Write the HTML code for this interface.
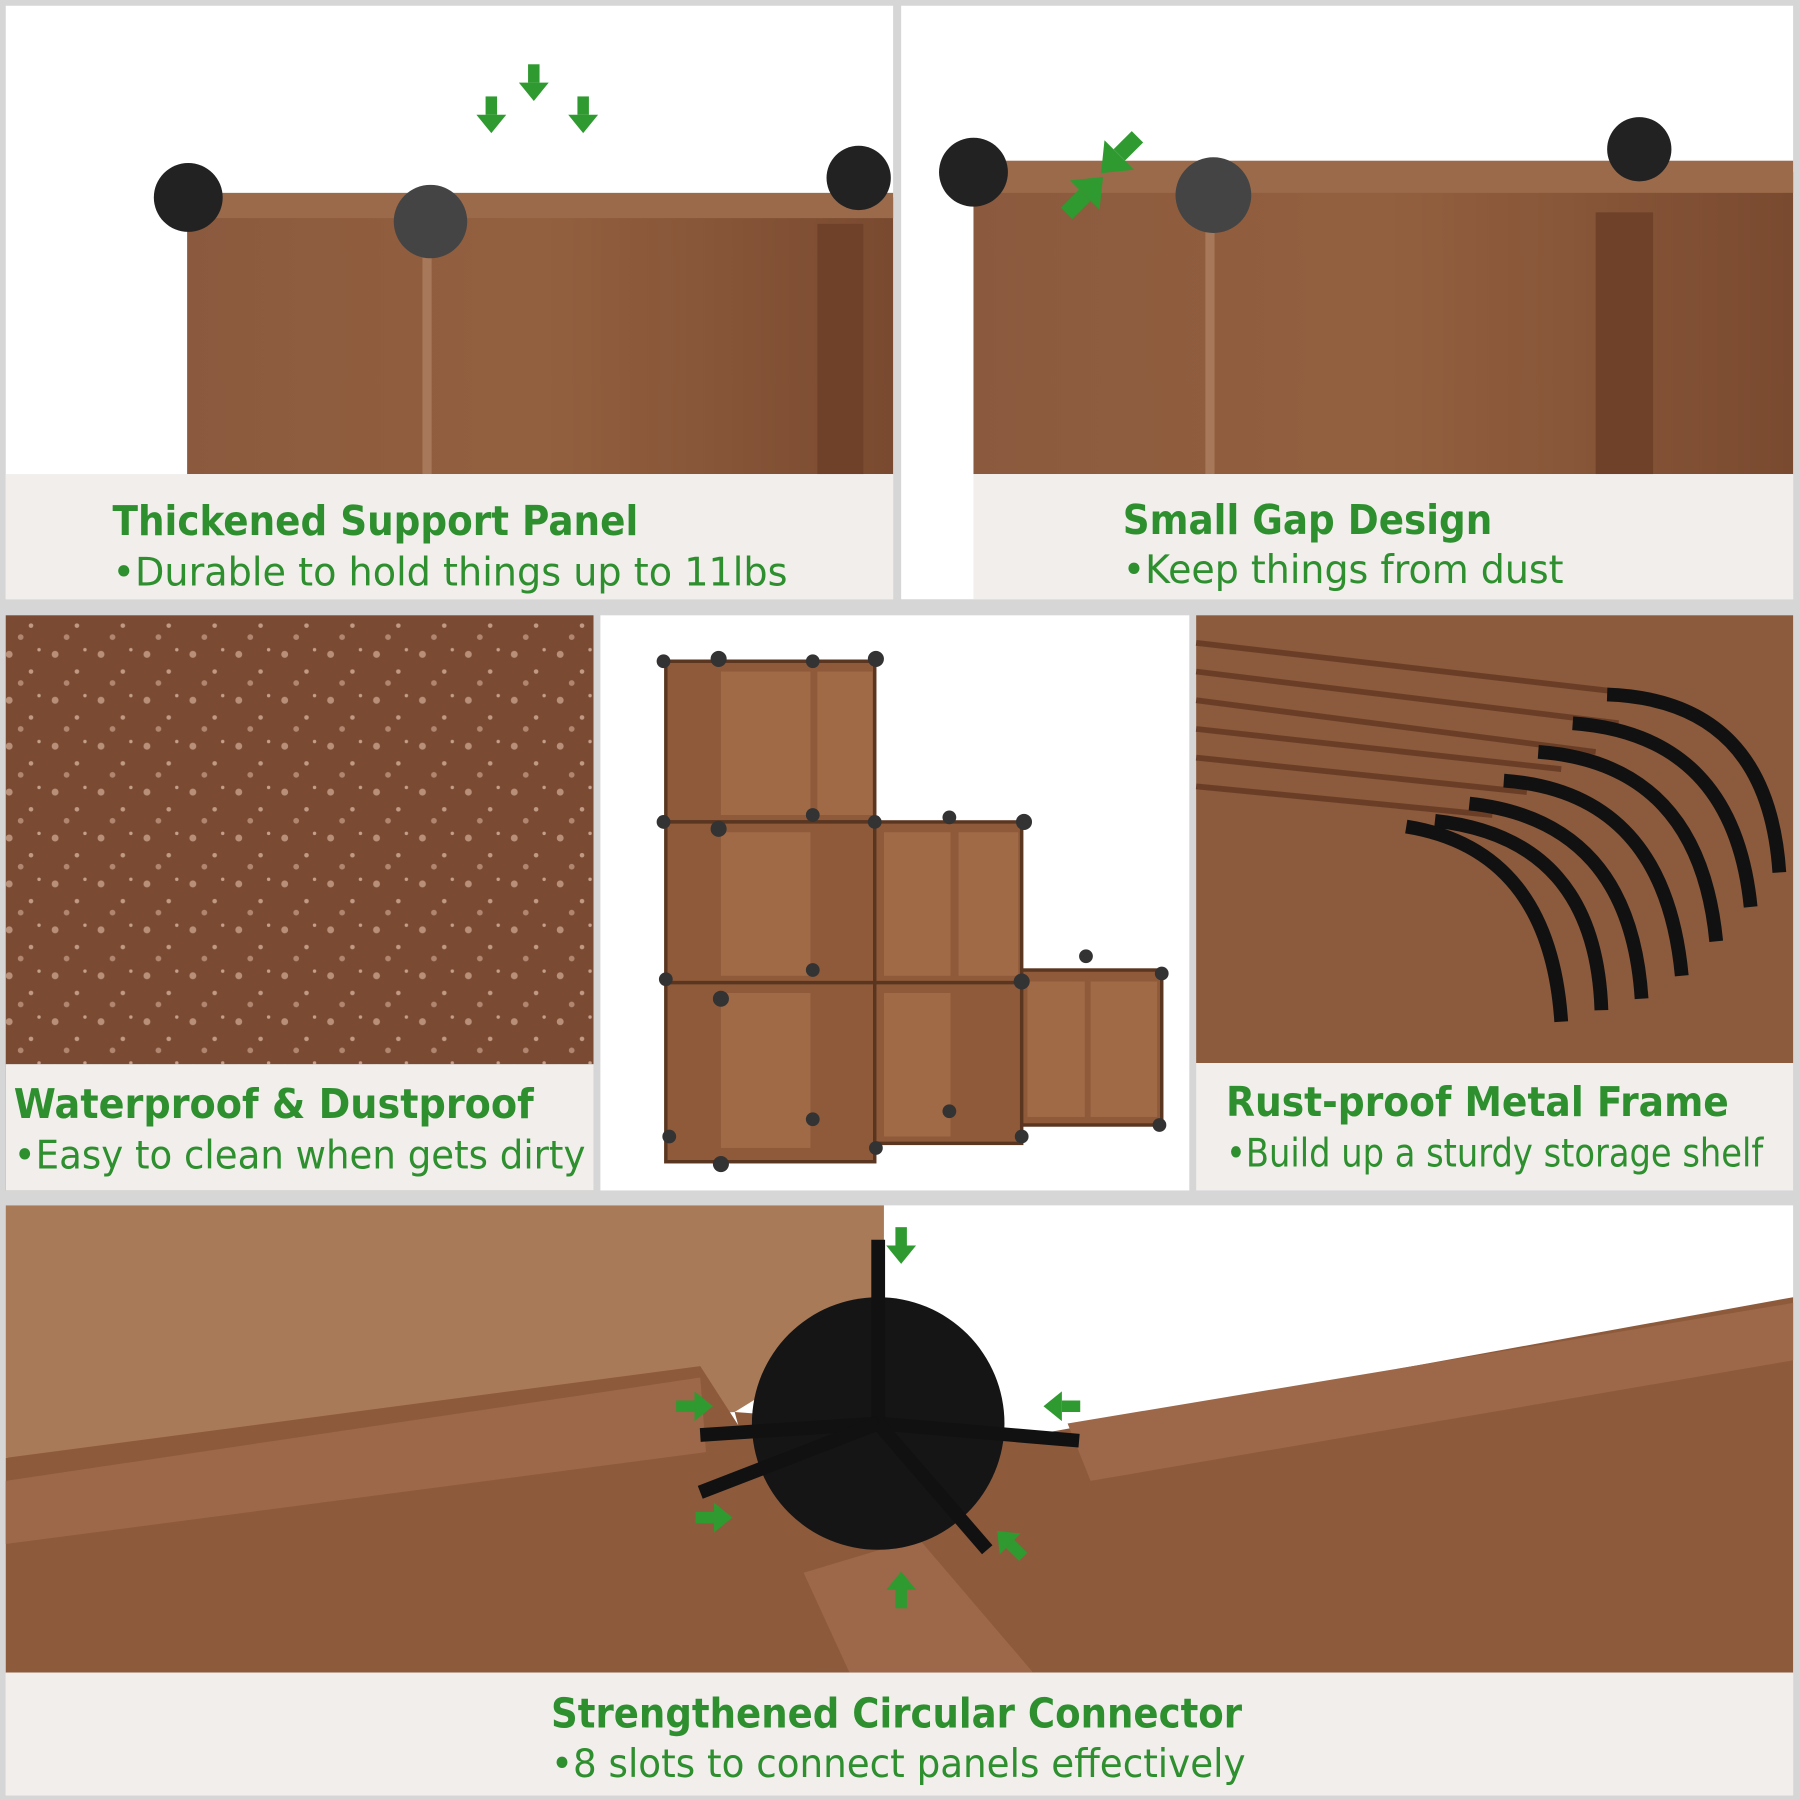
<!DOCTYPE html>
<html><head><meta charset="utf-8"><style>
html,body{margin:0;padding:0;background:#d6d6d6;}
svg{display:block}
text{font-family:"DejaVu Sans","Liberation Sans",sans-serif;}
</style></head><body>
<svg width="1800" height="1800" viewBox="0 0 1568 1568" xmlns="http://www.w3.org/2000/svg">
<defs>
<linearGradient id="br1" x1="0" y1="0" x2="1" y2="0"><stop offset="0" stop-color="#8b5a3e"/><stop offset="0.5" stop-color="#93603f"/><stop offset="1" stop-color="#7a4a30"/></linearGradient>
<pattern id="drops" width="40" height="40" patternUnits="userSpaceOnUse"><circle cx="8" cy="10" r="3" fill="#b8907a"/><circle cx="27" cy="25" r="2" fill="#c09a85"/><circle cx="18" cy="35" r="2.5" fill="#b08670"/><circle cx="34" cy="6" r="1.5" fill="#c4a08c"/></pattern>
<g id="arr"><rect x="-5" y="-16" width="10" height="16" fill="#2f9a2f"/><polygon points="-13,0 13,0 0,16" fill="#2f9a2f"/></g>
</defs>
<rect width="1568" height="1568" fill="#d6d6d6"/>
<!-- Panel 1 -->
<rect x="5" y="5" width="773" height="517" fill="#fff"/>
<rect x="163" y="172" width="615" height="241" fill="url(#br1)"/>
<rect x="175" y="168" width="603" height="22" fill="#9a6a4a"/>
<rect x="368" y="200" width="8" height="213" fill="#a8785a"/>
<rect x="712" y="195" width="40" height="218" fill="#6e4128"/>
<circle cx="164" cy="172" r="30" fill="#222"/><circle cx="375" cy="193" r="32" fill="#444"/><circle cx="748" cy="155" r="28" fill="#222"/>
<use href="#arr" x="428" y="100"/><use href="#arr" x="465" y="72"/><use href="#arr" x="508" y="100"/>
<rect x="5" y="413" width="773" height="109" fill="#f1eeec"/>
<text x="98" y="466" font-size="36" font-weight="bold" fill="#2e8f2e" textLength="458" lengthAdjust="spacingAndGlyphs">Thickened Support Panel</text>
<text x="98" y="510" font-size="34" fill="#2e8f2e" textLength="588" lengthAdjust="spacingAndGlyphs">•Durable to hold things up to 11lbs</text>
<!-- Panel 2 -->
<rect x="785" y="5" width="777" height="517" fill="#fff"/>
<rect x="848" y="150" width="714" height="263" fill="url(#br1)"/>
<rect x="870" y="140" width="692" height="28" fill="#9a6a4a"/>
<rect x="1050" y="190" width="8" height="223" fill="#a8785a"/>
<rect x="1390" y="185" width="50" height="228" fill="#6e4128"/>
<circle cx="848" cy="150" r="30" fill="#222"/><circle cx="1057" cy="170" r="33" fill="#444"/><circle cx="1428" cy="130" r="28" fill="#222"/>
<g transform="translate(975,135) rotate(45) scale(1.4)"><use href="#arr"/></g>
<g transform="translate(945,170) rotate(-135) scale(1.4)"><use href="#arr"/></g>
<rect x="848" y="413" width="714" height="109" fill="#f1eeec"/>
<text x="978" y="465" font-size="36" font-weight="bold" fill="#2e8f2e" textLength="322" lengthAdjust="spacingAndGlyphs">Small Gap Design</text>
<text x="978" y="508" font-size="34" fill="#2e8f2e" textLength="384" lengthAdjust="spacingAndGlyphs">•Keep things from dust</text>
<!-- Panel 3 -->
<rect x="5" y="536" width="512" height="501" fill="#7a4a32"/>
<rect x="5" y="536" width="512" height="391" fill="url(#drops)"/>
<rect x="5" y="927" width="512" height="110" fill="#f1eeec"/>
<text x="12" y="974" font-size="36" font-weight="bold" fill="#2e8f2e" textLength="453" lengthAdjust="spacingAndGlyphs">Waterproof &amp; Dustproof</text>
<text x="12" y="1018" font-size="34" fill="#2e8f2e" textLength="498" lengthAdjust="spacingAndGlyphs">•Easy to clean when gets dirty</text>
<!-- Panel 4 -->
<rect x="523" y="536" width="513" height="501" fill="#fff"/>
<g fill="#8f5a3a" stroke="#5a3520" stroke-width="3">
<rect x="580" y="576" width="182" height="140"/>
<rect x="580" y="716" width="182" height="140"/><rect x="762" y="716" width="128" height="140"/>
<rect x="580" y="856" width="182" height="156"/><rect x="762" y="856" width="128" height="140"/><rect x="890" y="845" width="122" height="135"/>
</g>
<g fill="#a06a47"><rect x="628" y="585" width="78" height="125"/><rect x="712" y="585" width="48" height="125"/><rect x="628" y="725" width="78" height="125"/><rect x="770" y="725" width="58" height="125"/><rect x="835" y="725" width="52" height="125"/><rect x="628" y="865" width="78" height="135"/><rect x="770" y="865" width="58" height="125"/><rect x="895" y="855" width="50" height="118"/><rect x="950" y="855" width="58" height="118"/></g>
<g fill="#333"><circle cx="578" cy="576" r="6"/><circle cx="626" cy="574" r="7"/><circle cx="708" cy="576" r="6"/><circle cx="763" cy="574" r="7"/><circle cx="578" cy="716" r="6"/><circle cx="626" cy="722" r="7"/><circle cx="708" cy="710" r="6"/><circle cx="762" cy="716" r="6"/><circle cx="827" cy="712" r="6"/><circle cx="892" cy="716" r="7"/><circle cx="580" cy="853" r="6"/><circle cx="628" cy="870" r="7"/><circle cx="708" cy="845" r="6"/><circle cx="890" cy="855" r="7"/><circle cx="946" cy="833" r="6"/><circle cx="1012" cy="848" r="6"/><circle cx="583" cy="990" r="6"/><circle cx="628" cy="1014" r="7"/><circle cx="708" cy="975" r="6"/><circle cx="763" cy="1000" r="6"/><circle cx="827" cy="968" r="6"/><circle cx="890" cy="990" r="6"/><circle cx="1010" cy="980" r="6"/></g>
<!-- Panel 5 -->
<rect x="1042" y="536" width="520" height="390" fill="#8c5a3c"/>
<g stroke="#6a3e26" stroke-width="5"><line x1="1042" y1="560" x2="1430" y2="605"/><line x1="1042" y1="585" x2="1410" y2="630"/><line x1="1042" y1="610" x2="1390" y2="655"/><line x1="1042" y1="635" x2="1360" y2="670"/><line x1="1042" y1="660" x2="1330" y2="690"/><line x1="1042" y1="685" x2="1300" y2="710"/></g>
<g stroke="#111" stroke-width="12" fill="none">
<path d="M1400 605 Q1540 610 1550 760"/><path d="M1370 630 Q1510 640 1525 790"/><path d="M1340 655 Q1480 665 1495 820"/><path d="M1310 680 Q1450 690 1465 850"/><path d="M1280 700 Q1420 715 1430 870"/><path d="M1250 715 Q1390 730 1395 880"/><path d="M1225 720 Q1350 740 1360 890"/></g>
<rect x="1042" y="926" width="520" height="111" fill="#f1eeec"/>
<text x="1068" y="972" font-size="36" font-weight="bold" fill="#2e8f2e" textLength="438" lengthAdjust="spacingAndGlyphs">Rust-proof Metal Frame</text>
<text x="1068" y="1016" font-size="34" fill="#2e8f2e" textLength="468" lengthAdjust="spacingAndGlyphs">•Build up a sturdy storage shelf</text>
<!-- Panel 6 -->
<rect x="5" y="1050" width="1557" height="514" fill="#fff"/>
<polygon points="5,1050 770,1050 770,1150 640,1230 5,1270" fill="#a97a58"/>
<polygon points="5,1270 610,1190 700,1330 900,1457 5,1457" fill="#8e5a3c"/>
<polygon points="5,1290 610,1200 615,1265 5,1345" fill="#9c6849"/>
<polygon points="900,1250 1562,1130 1562,1457 870,1457 850,1350" fill="#8e5a3c"/>
<polygon points="640,1230 900,1250 880,1457 700,1457" fill="#8e5a3c"/>
<polygon points="930,1240 1562,1135 1562,1185 950,1290" fill="#9c6849"/>
<polygon points="700,1370 800,1340 900,1457 740,1457" fill="#9c6849"/>
<circle cx="765" cy="1240" r="110" fill="#151515"/>
<g stroke="#111" stroke-width="12"><line x1="765" y1="1240" x2="765" y2="1080"/><line x1="765" y1="1240" x2="610" y2="1250"/><line x1="765" y1="1240" x2="940" y2="1255"/><line x1="765" y1="1240" x2="610" y2="1300"/><line x1="765" y1="1240" x2="860" y2="1350"/></g>
<use href="#arr" x="785" y="1085"/>
<g transform="translate(605,1225) rotate(-90)"><use href="#arr"/></g>
<g transform="translate(925,1225) rotate(90)"><use href="#arr"/></g>
<g transform="translate(622,1322) rotate(-90)"><use href="#arr"/></g>
<g transform="translate(785,1385) rotate(180)"><use href="#arr"/></g>
<g transform="translate(880,1345) rotate(135)"><use href="#arr"/></g>
<rect x="5" y="1457" width="1557" height="107" fill="#f1eeec"/>
<text x="480" y="1505" font-size="36" font-weight="bold" fill="#2e8f2e" textLength="602" lengthAdjust="spacingAndGlyphs">Strengthened Circular Connector</text>
<text x="480" y="1548" font-size="34" fill="#2e8f2e" textLength="605" lengthAdjust="spacingAndGlyphs">•8 slots to connect panels effectively</text>
</svg>
</body></html>
